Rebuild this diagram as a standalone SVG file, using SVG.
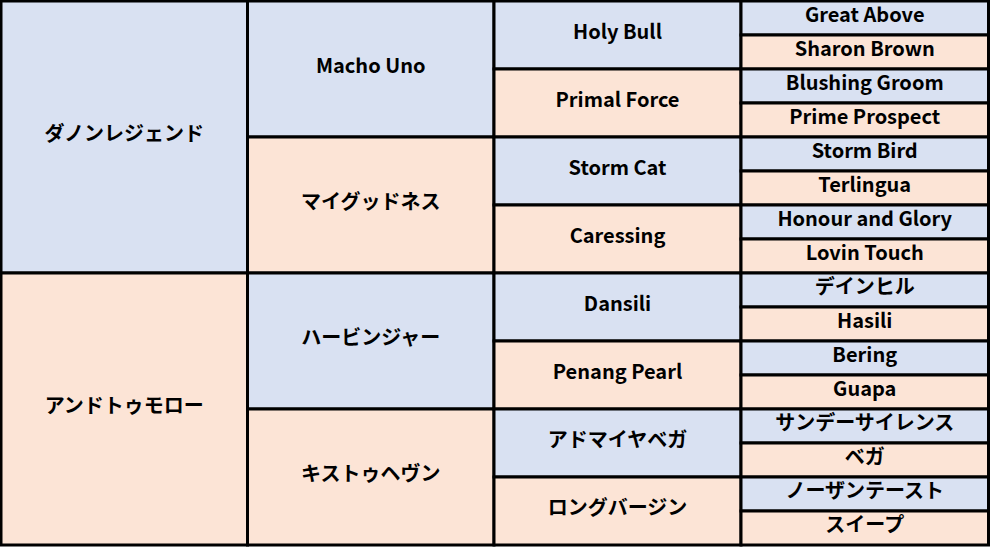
<svg xmlns="http://www.w3.org/2000/svg" width="990" height="547" viewBox="0 0 990 547">
<style>
.b{fill:#D9E1F2;stroke:#000;stroke-width:3}
.p{fill:#FCE4D6;stroke:#000;stroke-width:3}
text{font-family:"Noto Sans CJK JP","Noto Sans",sans-serif;font-weight:bold;font-size:20px;fill:#000;text-anchor:middle}
</style>
<rect x="0" y="0" width="990" height="547" fill="#fff"/>
<g id="g1">
<g id="n-danon"><rect class="b" x="1" y="1" width="246.5" height="272"/><text x="124.25" y="140.5">ダノンレジェンド</text></g>
<g id="n-andtomorrow"><rect class="p" x="1" y="273" width="246.5" height="272"/><text x="124.25" y="412.5">アンドトゥモロー</text></g>
</g>
<g id="g2">
<g id="n-machouno"><rect class="b" x="247.5" y="1" width="246.5" height="136"/><text x="370.75" y="72.5">Macho Uno</text></g>
<g id="n-mygoodness"><rect class="p" x="247.5" y="137" width="246.5" height="136"/><text x="370.75" y="208.5">マイグッドネス</text></g>
<g id="n-harbinger"><rect class="b" x="247.5" y="273" width="246.5" height="136"/><text x="370.75" y="344.5">ハービンジャー</text></g>
<g id="n-kisstoheaven"><rect class="p" x="247.5" y="409" width="246.5" height="136"/><text x="370.75" y="480.5">キストゥヘヴン</text></g>
</g>
<g id="g3">
<g id="n-holybull"><rect class="b" x="494" y="1" width="247" height="68"/><text x="617.5" y="38.5">Holy Bull</text></g>
<g id="n-primalforce"><rect class="p" x="494" y="69" width="247" height="68"/><text x="617.5" y="106.5">Primal Force</text></g>
<g id="n-stormcat"><rect class="b" x="494" y="137" width="247" height="68"/><text x="617.5" y="174.5">Storm Cat</text></g>
<g id="n-caressing"><rect class="p" x="494" y="205" width="247" height="68"/><text x="617.5" y="242.5">Caressing</text></g>
<g id="n-dansili"><rect class="b" x="494" y="273" width="247" height="68"/><text x="617.5" y="310.5">Dansili</text></g>
<g id="n-penangpearl"><rect class="p" x="494" y="341" width="247" height="68"/><text x="617.5" y="378.5">Penang Pearl</text></g>
<g id="n-admirevega"><rect class="b" x="494" y="409" width="247" height="68"/><text x="617.5" y="446.5">アドマイヤベガ</text></g>
<g id="n-longvirgin"><rect class="p" x="494" y="477" width="247" height="68"/><text x="617.5" y="514.5">ロングバージン</text></g>
</g>
<g id="g4">
<g id="n-greatabove"><rect class="b" x="741" y="1" width="247.5" height="34"/><text x="864.75" y="21.5">Great Above</text></g>
<g id="n-sharonbrown"><rect class="p" x="741" y="35" width="247.5" height="34"/><text x="864.75" y="55.5">Sharon Brown</text></g>
<g id="n-blushinggroom"><rect class="b" x="741" y="69" width="247.5" height="34"/><text x="864.75" y="89.5">Blushing Groom</text></g>
<g id="n-primeprospect"><rect class="p" x="741" y="103" width="247.5" height="34"/><text x="864.75" y="123.5">Prime Prospect</text></g>
<g id="n-stormbird"><rect class="b" x="741" y="137" width="247.5" height="34"/><text x="864.75" y="157.5">Storm Bird</text></g>
<g id="n-terlingua"><rect class="p" x="741" y="171" width="247.5" height="34"/><text x="864.75" y="191.5">Terlingua</text></g>
<g id="n-honourandglory"><rect class="b" x="741" y="205" width="247.5" height="34"/><text x="864.75" y="225.5">Honour and Glory</text></g>
<g id="n-lovintouch"><rect class="p" x="741" y="239" width="247.5" height="34"/><text x="864.75" y="259.5">Lovin Touch</text></g>
<g id="n-danehill"><rect class="b" x="741" y="273" width="247.5" height="34"/><text x="864.75" y="293.5">デインヒル</text></g>
<g id="n-hasili"><rect class="p" x="741" y="307" width="247.5" height="34"/><text x="864.75" y="327.5">Hasili</text></g>
<g id="n-bering"><rect class="b" x="741" y="341" width="247.5" height="34"/><text x="864.75" y="361.5">Bering</text></g>
<g id="n-guapa"><rect class="p" x="741" y="375" width="247.5" height="34"/><text x="864.75" y="395.5">Guapa</text></g>
<g id="n-sundaysilence"><rect class="b" x="741" y="409" width="247.5" height="34"/><text x="864.75" y="429.5">サンデーサイレンス</text></g>
<g id="n-vega"><rect class="p" x="741" y="443" width="247.5" height="34"/><text x="864.75" y="463.5">ベガ</text></g>
<g id="n-northerntaste"><rect class="b" x="741" y="477" width="247.5" height="34"/><text x="864.75" y="497.5">ノーザンテースト</text></g>
<g id="n-sweep"><rect class="p" x="741" y="511" width="247.5" height="34"/><text x="864.75" y="531.5">スイープ</text></g>
</g>
<g id="connectors"/>
</svg>
